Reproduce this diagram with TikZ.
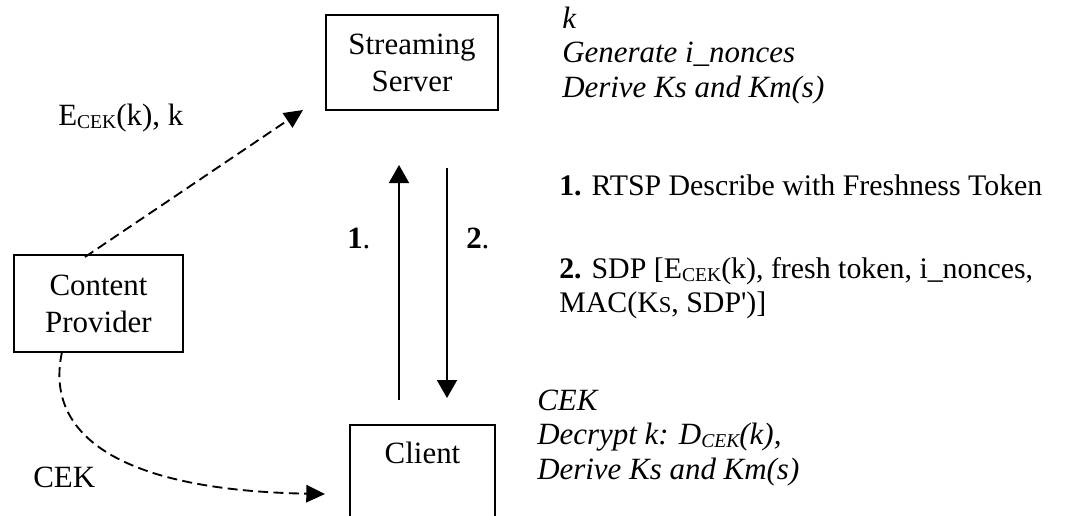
\documentclass[tikz,border=0pt]{standalone}
\usepackage{fontspec}
\setmainfont{Liberation Serif}
\usetikzlibrary{arrows.meta}
\tikzset{
 px/.style={x=0.75pt,y=-0.75pt},
 box/.style={draw, line width=1.5pt, align=center, inner sep=0pt, font=\fontsize{23.2}{27.75}\selectfont},
 txt/.style={anchor=base west, inner sep=0pt, font=\fontsize{23.2}{25.9}\selectfont},
 steptxt/.style={anchor=base west, inner sep=0pt, font=\fontsize{22.4}{26.2}\selectfont},
 solidarrow/.style={line width=1.4pt, -{Triangle[length=13.5pt,width=15pt]}},
 dasharrow/.style={line width=1.4pt, dash pattern=on 7.5pt off 4pt, -{Triangle[length=14pt,width=13pt]}},
}
\newcommand\mysub[1]{\raisebox{-2.25pt}{\fontsize{14.7}{14.7}\selectfont #1}}
\begin{document}
\begin{tikzpicture}[px]
\useasboundingbox (0,0) rectangle (1084,515);
\clip (0,0) rectangle (1084,515);
% boxes
\node[box, minimum width=129pt, minimum height=71.25pt] (server) at (412,62.5) {Streaming\\Server};
\node[box, minimum width=126.75pt, minimum height=72.75pt] (provider) at (98.5,303.5) {Content\\Provider};
\node[box, anchor=north, minimum width=108.75pt, inner ysep=12.5pt, text height=16pt, text depth=90pt] (client) at (422.5,424) {Client};
% connector end points
\coordinate (up1) at (399,400);
\coordinate (up2) at (399,165);
\coordinate (dn1) at (447,168);
\coordinate (dn2) at (447,398);
\coordinate (e1) at (85,257);
\coordinate (e2) at (303,110);
\coordinate (c1) at (62,352);
\coordinate (c2) at (325,494);
% connectors
\draw[solidarrow] (up1) -- (up2);
\draw[solidarrow] (dn1) -- (dn2);
\draw[dasharrow] (e1) -- (e2);
\draw[dasharrow] (c1) .. controls (45,430) and (110,490) .. (c2);
% labels
\node[txt] (l1) at (347,248) {\textbf{1}.};
\node[txt] (l2) at (466,248) {\textbf{2}.};
\node[txt] (ek) at (58,125) {E\mysub{CEK}(k), k};
\node[txt] (cek) at (33,487) {CEK};
\node[txt] (srvnote) at (562,28) {\itshape\begin{tabular}[t]{@{}l@{}}k\\Generate i\_nonces\\Derive Ks and Km(s)\end{tabular}};
\node[steptxt] (step1) at (559,195) {\textbf{1.} RTSP Describe with Freshness Token};
\node[steptxt] (step2) at (559,278) {\begin{tabular}[t]{@{}l@{}}\textbf{2.} SDP [E\mysub{CEK}(k), fresh token, i\_nonces,\\MAC(K{\fontsize{17}{17}\selectfont S}, SDP\textquotesingle)]\end{tabular}};
\node[txt] (clinote) at (537,410) {\itshape\begin{tabular}[t]{@{}l@{}}CEK\\Decrypt k: D\mysub{CEK}(k),\\Derive Ks and Km(s)\end{tabular}};
\end{tikzpicture}
\end{document}
